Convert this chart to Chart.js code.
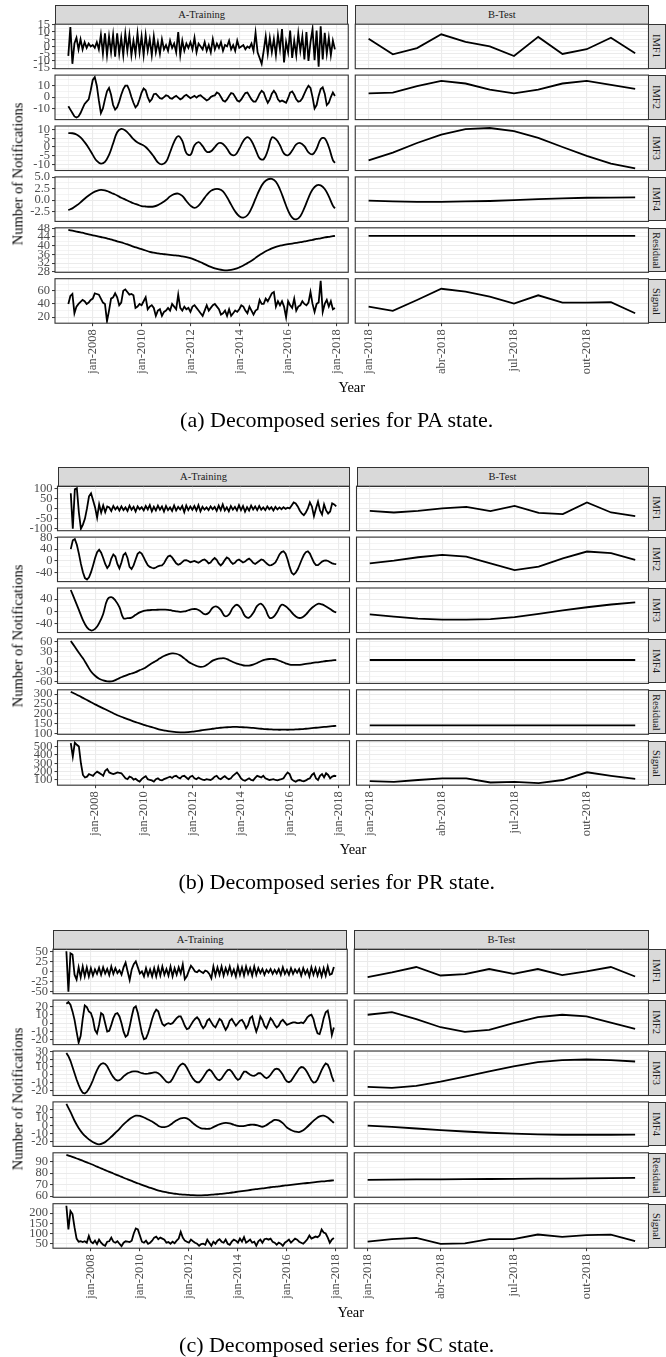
<!DOCTYPE html>
<html>
<head>
<meta charset="utf-8">
<script src="https://cdn.jsdelivr.net/npm/chart.js@4.4.6/dist/chart.umd.min.js"></script>
<style>
  html, body { margin: 0; padding: 0; background: #fff; }
  #page { position: relative; width: 666px; height: 1357px; overflow: hidden;
          font-family: 'Liberation Serif', 'Times New Roman', serif; }
  #page canvas { position: absolute; }
  .strip { position: absolute; box-sizing: border-box; border: 1px solid #333; background: #d9d9d9;
           color: #1a1a1a; font-size: 10.5px; display: flex; align-items: center; justify-content: center;
           white-space: nowrap; overflow: hidden; }
  .strip.v { writing-mode: vertical-rl; }
  .txt { position: absolute; white-space: nowrap; color: #000; transform: translate(-50%, -50%); }
</style>
</head>
<body>
<div id="page"></div>
<script>
// Values. Training series run Jan-2007..Dec-2017:
// 132 entries = one per month, 67 entries = every other month plus Dec-2017.
// Test series are Jan-2018..Dec-2018, one per month.

// ---- (a) PA
const PA_IMF1_TRAIN = [
  -6.5, 13.5, -12, 2, 6, -2, 5, -2, 3, -1, 2, 0,
  1, -1, 3, -2, 8, -5, 9, -6, 7, -4, 8, -7,
  9, -5, 6, -6, 9, -3, 8, -6, 4, -5, 9, -4,
  7, -6, 8, -3, 5, -6, 7, -4, 3, -5, 5, -2,
  1, -3, 4, -1, 2, -4, 10, -6, 4, -3, 2, -1,
  3, -2, 6, -4, 2, 0, -2, 3, -3, 1, -4, 5,
  -2, 2, -1, 3, -3, 1, 0, 4, -2, 1, -3, 4,
  -1, 0, 1, -2, 0, -1, 2, -3, 9.5, -4, -8, -12,
  -3, 7, -5, 6, -4, 5, -6, 8, -2, 12, -11, 3,
  -4, 11, -8, 4, -6, 9, -3, 7, -9, 10, -10, 3,
  12, -9.5, 11, -14, 14, -9, 9.5, -5, 6, -6, 4, -2];
const PA_IMF1_TEST = [5.3, -5.4, -1.1, 8.4, 3.1, 0, -6.6, 6.6, -5.2, -1.9, 6, -4.7];
const PA_IMF2_TRAIN = [
  -8, -11, -14, -17, -18, -17, -14, -10, -6, -4, -2, 6,
  15, 17.5, 10, -3, -14, -10, -2, 5, 8, 2, -7, -11,
  -9, -4, 2, 7, 10, 10, 6, 0, -5, -9, -7, -2,
  4, 7.5, 6, 0, -4, -2, 2.5, 3, 1, -1, -1.5, 0,
  1.5, 1, -1, -1.5, 0, 1, -0.5, -2, -1, 1, 2, 0.5,
  -1, 0, 1, -0.5, 1, 1.5, 0, -1.5, -3, -2, 0, 1,
  1.5, 4, 3, 0, -3, -4, -2, 1, 3.5, 3, 0, -3,
  -4, -2, 1, 3.5, 4, 1, -2, -4, -4, -1, 3, 5.5,
  4, -1, -5, -2, 3, 5.5, 3, -2, -4, -3, -4, -5,
  -1, 4, 5, 2, -2, -4, -3.5, -1, 3, 7, 10, 8,
  0, -10, -7, 1, 7, 8.5, 3, -7, -5, 0, 4, 1];
const PA_IMF2_TEST = [3.3, 3.9, 9.5, 14.2, 11.9, 6.5, 3.3, 6.5, 11.9, 14.2, 10.6, 7.1];
const PA_IMF3_TRAIN = [
  8.0, 7.9, 7.2, 5.5, 2.8, -0.5, -4.5, -8.0, -9.5, -8.5,
  -4.5, 2.0, 8.5, 10.4, 9.5, 7.2, 4.5, 2.6, 1.5, 0.0,
  -2.5, -5.5, -8.8, -10.0, -8.5, -3.0, 3.0, 6.3, 3.5, -3.5,
  -4.5, 1.0, 2.8, 0.5, -2.7, -2.5, 0.0, 2.3, 1.8, -1.0,
  -4.3, -4.5, -1.0, 3.5, 5.7, 3.5, -1.5, -6.5, -7.0, -2.0,
  5.5, 4.5, 1.0, -3.8, -4.7, -2.0, 1.5, 2.3, 0.5, -3.0,
  -4.2, -1.0, 4.5, 5.0, 0.0, -7.5, -9.1];
const PA_IMF3_TEST = [-7.6, -3.2, 2.3, 7.1, 10.3, 10.9, 9.1, 5.3, 0, -5.1, -9.5, -12.3];
const PA_IMF4_TRAIN = [
  -2.2, -1.8, -1.2, -0.5, 0.3, 1.0, 1.6, 2.0, 2.2, 2.1,
  1.8, 1.4, 1.0, 0.5, 0.1, -0.3, -0.7, -1.0, -1.3, -1.4,
  -1.45, -1.4, -1.1, -0.6, 0.0, 0.8, 1.3, 1.4, 0.9, -0.2,
  -1.2, -1.7, -1.2, -0.1, 1.1, 2.0, 2.4, 2.4, 1.9, 0.6,
  -1.0, -2.5, -3.5, -3.8, -3.3, -1.8, 0.3, 2.3, 3.8, 4.5,
  4.6, 4.0, 2.3, 0.0, -2.3, -3.8, -4.2, -3.5, -1.7, 0.5,
  2.3, 3.2, 3.2, 2.4, 0.8, -1.2, -1.8];
const PA_IMF4_TEST = [-0.1, -0.3, -0.4, -0.4, -0.3, -0.2, 0, 0.2, 0.35, 0.5, 0.55, 0.6];
const PA_RES_TRAIN = [
  47.3, 46.9, 46.5, 46.1, 45.7, 45.2, 44.8, 44.4, 44.0, 43.6,
  43.1, 42.6, 42.0, 41.5, 40.9, 40.3, 39.6, 39.0, 38.4, 37.8,
  37.2, 36.8, 36.5, 36.2, 36.0, 35.8, 35.6, 35.4, 35.1, 34.8,
  34.3, 33.6, 32.8, 32.0, 31.1, 30.3, 29.6, 29.1, 28.8, 28.7,
  28.9, 29.3, 30.0, 30.9, 32.0, 33.1, 34.4, 35.7, 36.9, 37.9,
  38.8, 39.5, 40.0, 40.4, 40.7, 41.0, 41.3, 41.6, 42.0, 42.3,
  42.7, 43.1, 43.4, 43.8, 44.1, 44.4, 44.5];
const PA_RES_TEST = [44.5, 44.5, 44.5, 44.5, 44.5, 44.5, 44.5, 44.5, 44.5, 44.5, 44.5, 44.5];
const PA_SIGNAL_TRAIN = [
  40, 52, 55, 26, 36, 40, 43, 46, 44, 40, 42, 46,
  48, 56, 55, 54, 48, 42, 40, 14, 30, 48, 50, 56,
  50, 38, 42, 60, 62, 58, 54, 55, 53, 34, 36, 40,
  38, 44, 50, 32, 36, 38, 34, 22, 30, 32, 22, 28,
  30, 34, 30, 40, 36, 32, 54, 34, 30, 36, 32, 34,
  28, 36, 38, 34, 30, 26, 22, 30, 38, 30, 34, 38,
  40, 36, 32, 24, 26, 30, 22, 32, 22, 26, 30, 28,
  32, 38, 36, 30, 26, 36, 30, 24, 30, 32, 46, 40,
  40, 48, 44, 50, 56, 58, 36, 44, 38, 44, 36, 20,
  44, 38, 34, 48, 30, 36, 38, 44, 40, 38, 42, 58,
  40, 28, 40, 42, 75, 28, 40, 46, 36, 44, 32, 34];
const PA_SIGNAL_TEST = [36, 29.5, 46, 62.9, 58.5, 51, 40.5, 53, 42, 42, 42.5, 26];

// ---- (b) PR
const PR_IMF1_TRAIN = [
  75, -100, 95, 100, -20, -100, -80, -50, 0, 60, 75, 40,
  5, -45, 20, -20, 15, -18, 10, 5, -12, 12, -5, 8,
  -10, 10, -8, 5, -12, 14, -6, 8, -15, 10, -4, 6,
  -10, 12, -5, 16, -14, 8, -10, 14, -6, 10, -15, 12,
  -8, 5, -12, 15, -10, 8, -5, 12, -18, 14, -8, 10,
  -6, 12, -10, 16, -14, 8, -6, 5, -8, 10, -4, 8,
  -12, 14, -8, 20, -10, 6, -14, 12, -6, 8, -10, 16,
  -8, 12, -16, 6, -10, 14, -5, 10, -8, 12, -6, 5,
  -8, 10, -4, 6, -10, 8, -5, 5, -4, 6, -2, 4,
  0, 15, 30, 25, 10, -10, -25, -33, -20, 0, 30, 10,
  -38, 0, 33, -10, -30, 20, -10, -25, -15, 25, 20, 10];
const PR_IMF1_TEST = [-12, -20, -12, 0, 8, -13.5, 13, -22, -28, 30, -20, -38];
const PR_IMF2_TRAIN = [
  40, 70, 74, 55, 25, -10, -38, -58, -63, -55, -38, -15,
  10, 30, 38, 28, 10, -10, -24, -15, 8, 22, 15, -10,
  -25, -5, 20, 27, 10, -20, -27, -15, 5, 24, 30, 25,
  12, -2, -14, -20, -23, -25, -22, -18, -16, -15, -8, 5,
  15, 18, 12, 2, -8, -13, -10, -4, 2, 3, 0, -4,
  -2, 0, -3, -6, -2, 3, 5, 0, -8, -5, 4, 10,
  4, -8, -15, -8, 3, 12, 8, -3, -10, -6, 2, 5,
  0, -5, -2, 4, 8, 2, -6, -10, -5, 0, 5, 3,
  -4, -10, -15, -14, -10, -5, 8, 22, 30, 33, 25, 5,
  -20, -40, -46, -40, -28, -12, 5, 20, 30, 33, 25, 10,
  -5, -14, -14, -8, -2, 1, 2, 0, -4, -8, -10, -11];
const PR_IMF2_TEST = [-8, 1, 12.6, 20.6, 14.9, -8, -30.9, -19.4, 9.1, 32, 26.3, 3.4];
const PR_IMF3_TRAIN = [
  70, 38, 5, -28, -52, -62, -57, -38, -8, 38,
  47, 36, 14, -22, -22, -20, -11, -3, 2, 4,
  5, 5.5, 6, 6, 5.5, 3, 0.5, -1, 0, 4,
  7.5, 7.5, 1, -9, -5, 12, 16, 5, -15, -10,
  12, 22, 10, -15, -20, -5, 18, 25, 8, -20,
  -18, 0, 22, 17, 5, -10, -20, -20, -10, 5,
  17, 25, 23, 16, 8, -1, -3];
const PR_IMF3_TEST = [-9.3, -17, -23, -26.6, -26.6, -25, -18.6, -8, 3.4, 13.8, 22.8, 29.7];
const PR_IMF4_TRAIN = [
  63, 45, 27, 10, -10, -30, -43, -52, -57, -60,
  -60, -56, -50, -45, -40, -36, -32, -26, -21, -13,
  -5, 2, 10, 17, 22, 25, 24, 19, 10, 0,
  -7, -13, -16, -14, -6, 3, 8, 10, 10, 5,
  -1, -6, -9, -12, -12, -9, -4, 2, 6, 8,
  8, 5, 0, -5, -9, -10, -10, -9, -7, -5,
  -3, -2, 0, 2, 3, 4.5, 5];
const PR_IMF4_TEST = [5, 5, 5, 5, 5, 5, 5, 5, 5, 5, 5, 5];
const PR_RES_TRAIN = [
  312, 302, 292, 281, 270, 259, 248, 238, 228, 218,
  208, 198, 189, 181, 173, 165, 158, 151, 144, 138,
  132, 126, 120, 116, 112, 109, 107, 106, 106, 107,
  109, 112, 115, 118, 121, 124, 127, 129, 131, 132,
  133, 133, 132, 131, 130, 128, 126, 124, 122, 121,
  120, 119, 119, 119, 119, 120, 121, 122, 124, 126,
  128, 130, 132, 134, 136, 138, 139];
const PR_RES_TEST = [141, 141, 141, 141, 141, 141, 141, 141, 141, 141, 141, 141];
const PR_SIGNAL_TRAIN = [
  540, 380, 545, 520, 500, 300, 160, 130, 140, 170, 160, 150,
  180, 200, 185, 170, 150, 210, 230, 190, 180, 170, 180, 190,
  185, 180, 150, 120, 110, 140, 130, 105, 115, 95, 80, 110,
  130, 145, 110, 100, 95, 80, 110, 120, 100, 95, 110, 120,
  130, 140, 125, 145, 150, 130, 120, 145, 150, 130, 110, 140,
  150, 120, 110, 130, 115, 105, 100, 110, 105, 100, 115, 140,
  150, 120, 110, 130, 145, 125, 110, 120, 150, 170, 190, 160,
  120, 100, 90, 105, 120, 100, 95, 125, 150, 140, 130, 150,
  120, 110, 100, 105, 110, 100, 95, 105, 110, 120, 160, 190,
  170, 110, 90, 80, 95, 100, 90, 85, 95, 110, 120, 160,
  180, 120, 100, 150, 170, 130, 180, 160, 120, 140, 150, 145];
const PR_SIGNAL_TEST = [87, 78, 100, 120, 120, 70, 78, 62, 100, 192, 150, 113];

// ---- (c) SC
const SC_IMF1_TRAIN = [
  50, -50, 45, 42, -8, -20, 10, -14, 12, -12, 10, -12,
  8, -10, 5, -6, 9, -8, 10, -5, 6, -9, 12, -6,
  8, -4, 3, -8, 10, 22, 0, -21, 5, 18, 25, 10,
  -5, 0, -12, 8, -10, 5, -12, 8, -12, 10, -10, 12,
  -8, 6, -10, 12, -12, 8, -8, 10, -5, 17, -19, -12,
  2, 14, 8, 0, -2, 3, -1, -4, 2, 0, -6, -17,
  12, -10, 10, -8, 12, -10, 8, -6, 12, -8, 5, -12,
  12, -8, 10, -10, 12, -6, 8, -10, 12, -8, 8, -4,
  6, -8, 4, -3, 6, -6, 4, -5, 6, -8, 10, -6,
  4, -8, 8, -6, 5, -3, 6, -10, 8, -6, 4, -12,
  10, -8, 8, -10, 6, -12, 8, -10, 12, -8, -6, 11];
const SC_IMF1_TEST = [-14, -2.5, 11, -10, -6.5, 6, -5.8, 6, -9, 0, 11, -12.5];
const SC_IMF2_TRAIN = [
  23, 25, 22, 14, 4, -10, -23, -15, 5, 21, 19, 14,
  12, 5, -8, -12, -2, 12, 10, 0, -10, -9, -2, 6,
  11, 12, 8, 0, -10, -16, -14, -4, 8, 18, 20, 12,
  0, -12, -19, -18, -12, -4, 5, 12, 16, 14, 6, -1,
  -3, -1, 0, -1, 0, 3, 6, 8, 8, 3, -3, -7,
  -6, -2, 2, 5, 7, 4, -2, -6, -3, 3, 5, 1,
  -3, -5, 0, 5, 3, -3, -8, -4, 3, 5, 1, -3,
  0, 3, 4, 0, -6, -2, 6, 8, -2, -10, -3, 8,
  4, -3, -6, 0, 6, 3, -2, -5, -3, 2, 4, 1,
  -2, -1, 0, 1, 1, 0, 0, 1, 0, 3, 7, 9,
  10, 5, -5, -12, -13, -5, 6, 13, 15, 3, -14, -5];
const SC_IMF2_TEST = [10, 13.2, 4.8, -4.8, -10.4, -8, 0, 7.2, 10, 8, 0.7, -6.8];
const SC_IMF3_TRAIN = [
  28, 24, 18, 10, 2, -6, -13, -19, -23, -24, -22, -18,
  -13, -7, 0, 6, 11, 14, 15, 14, 11, 6, 1, -3,
  -6, -7.5, -7, -5, -2, 0, 2, 3, 4, 4.4, 4.4, 4,
  3, 2, 1.5, 1.3, 1.5, 2, 2.5, 3, 3, 2, 0, -3,
  -6, -9, -10, -9, -5, 0, 5, 10, 13, 14.5, 13, 9,
  4, -1, -5, -8, -9.6, -9.6, -7, -3, 1, 5, 6.6, 5,
  1, -3, -6, -7, -5, -1, 3, 6, 6.6, 4, 0, -4,
  -6.6, -5, 0, 4, 4, 2, 0, -1, -1.3, 0, 2, 2.2,
  0, -3, -4.4, -3, 0, 4, 7, 7.9, 7, 4, 0, -5,
  -8.5, -9.6, -8, -4, 0, 4, 8, 10, 9.5, 7, 3, -2,
  -7, -10, -9.5, -6, 0, 6, 11, 14.5, 13, 7, -2, -9];
const SC_IMF3_TEST = [-15.4, -16.7, -14.1, -8.8, -2.2, 4.3, 10.9, 16.2, 18.8, 19.7, 18.8, 17.1];
const SC_IMF4_TRAIN = [
  27, 17, 6, -3, -10, -15, -19, -22, -23.5, -22,
  -18.5, -14, -9, -4, 1.5, 6, 10, 12.3, 12, 10,
  7.5, 5, 1.5, -1.5, -2, -0.5, 3, 6.5, 9, 9.5,
  7.5, 3, -1, -3.5, -4, -4, -2, 0.5, 2.5, 3.3,
  2.8, 1, -0.5, -0.8, 0, 1, 1, 0, -1.5, 0.5,
  4, 7, 6.5, 3, -2.5, -5.5, -7.5, -8.2, -6, -1.5,
  3.5, 8, 11.5, 12.3, 10, 5.5, 3.3];
const SC_IMF4_TEST = [0, -1.6, -3.7, -5.8, -7.4, -9, -10.2, -11.1, -11.5, -11.5, -11.5, -11.3];
const SC_RES_TRAIN = [
  96, 94.8, 93.5, 92.2, 90.8, 89.4, 88, 86.5, 84.9, 83.4,
  81.9, 80.4, 79, 77.5, 76, 74.6, 73.2, 71.8, 70.5, 69.2,
  67.9, 66.7, 65.5, 64.5, 63.6, 62.9, 62.3, 61.9, 61.5, 61.2,
  61, 60.8, 60.7, 60.7, 60.8, 61, 61.3, 61.6, 62, 62.4,
  62.8, 63.3, 63.8, 64.3, 64.8, 65.3, 65.8, 66.3, 66.7, 67.2,
  67.7, 68.1, 68.5, 69, 69.4, 69.8, 70.2, 70.6, 71, 71.4,
  71.8, 72.2, 72.6, 72.9, 73.3, 73.6, 73.7];
const SC_RES_TEST = [74.2, 74.3, 74.5, 74.6, 74.8, 74.9, 75.0, 75.2, 75.3, 75.5, 75.6, 75.8];
const SC_SIGNAL_TRAIN = [
  236, 120, 210, 195, 130, 75, 60, 62, 58, 62, 55, 88,
  60, 52, 65, 48, 70, 55, 45, 40, 60, 62, 80, 60,
  55, 62, 50, 38, 55, 62, 60, 58, 65, 100, 125, 120,
  90, 60, 55, 65, 50, 55, 65, 80, 85, 72, 80, 75,
  70, 55, 58, 50, 60, 52, 65, 75, 108, 80, 65, 60,
  55, 70, 62, 55, 50, 40, 48, 50, 45, 70, 55, 40,
  60, 50, 65, 72, 60, 55, 70, 50, 45, 60, 70, 65,
  55, 75, 60, 82, 55, 62, 70, 55, 60, 40, 62, 70,
  55, 72, 75, 70, 75, 60, 55, 45, 55, 50, 40, 55,
  62, 70, 55, 65, 75, 70, 60, 55, 50, 60, 72, 90,
  75, 80, 85, 82, 90, 120, 105, 100, 80, 55, 70, 78];
const SC_SIGNAL_TEST = [60, 73, 79, 49, 52, 73, 73, 95, 84, 92, 95, 63];

// ---- y tick labels per row, as printed
const PA_TICKS = [[-15, -10, -5, 0, 5, 10, 15], [-10, 0, 10], [-10, -5, 0, 5, 10],
                  [-2.5, 0, 2.5, 5], [28, 32, 36, 40, 44, 48], [20, 40, 60]];
const PR_TICKS = [[-100, -50, 0, 50, 100], [-40, 0, 40, 80], [-40, 0, 40],
                  [-60, -30, 0, 30, 60], [100, 150, 200, 250, 300], [100, 200, 300, 400, 500]];
const SC_TICKS = [[-50, -25, 0, 25, 50], [-20, -10, 0, 10, 20], [-20, -10, 0, 10, 20, 30],
                  [-20, -10, 0, 10, 20], [60, 70, 80, 90], [50, 100, 150, 200]];

const ROW_NAMES = ['IMF1', 'IMF2', 'IMF3', 'IMF4', 'Residual', 'Signal'];
const COL_NAMES = ['A-Training', 'B-Test'];
const CAPTIONS = ['(a) Decomposed series for PA state.', '(b) Decomposed series for PR state.',
                  '(c) Decomposed series for SC state.'];
const TRAIN_TICK_YEARS = [2008, 2010, 2012, 2014, 2016, 2018];
const TRAIN_TICK_LABELS = ['jan-2008', 'jan-2010', 'jan-2012', 'jan-2014', 'jan-2016', 'jan-2018'];
const TEST_TICK_MONTHS = [0, 3, 6, 9];
const TEST_TICK_LABELS = ['jan-2018', 'abr-2018', 'jul-2018', 'out-2018'];

const FIGURES = [
  { caption: CAPTIONS[0], ticks: PA_TICKS, decimals: [0, 0, 0, 1, 0, 0],
    train: [PA_IMF1_TRAIN, PA_IMF2_TRAIN, PA_IMF3_TRAIN, PA_IMF4_TRAIN, PA_RES_TRAIN, PA_SIGNAL_TRAIN],
    test: [PA_IMF1_TEST, PA_IMF2_TEST, PA_IMF3_TEST, PA_IMF4_TEST, PA_RES_TEST, PA_SIGNAL_TEST] },
  { caption: CAPTIONS[1], ticks: PR_TICKS, decimals: [0, 0, 0, 0, 0, 0],
    train: [PR_IMF1_TRAIN, PR_IMF2_TRAIN, PR_IMF3_TRAIN, PR_IMF4_TRAIN, PR_RES_TRAIN, PR_SIGNAL_TRAIN],
    test: [PR_IMF1_TEST, PR_IMF2_TEST, PR_IMF3_TEST, PR_IMF4_TEST, PR_RES_TEST, PR_SIGNAL_TEST] },
  { caption: CAPTIONS[2], ticks: SC_TICKS, decimals: [0, 0, 0, 0, 0, 0],
    train: [SC_IMF1_TRAIN, SC_IMF2_TRAIN, SC_IMF3_TRAIN, SC_IMF4_TRAIN, SC_RES_TRAIN, SC_SIGNAL_TRAIN],
    test: [SC_IMF1_TEST, SC_IMF2_TEST, SC_IMF3_TEST, SC_IMF4_TEST, SC_RES_TEST, SC_SIGNAL_TEST] },
];

// ---- layout (px)
const FIG_TOP = [5, 467, 930];
const TRAIN_LEFT = [55, 57.5, 53];
const PANELS_RIGHT = 648.5, COL_GAP = 7, STRIP_H = 19.2, ROW_PITCH = 50.9, PANEL_H = 44.5, RSTRIP_W = 17;
const AXW = 40, PADV = 9, PADR = 2, PADL = 1, XAH = 56;

const MONTHLY = Array.from({ length: 132 }, (_, i) => i);
const COARSE = Array.from({ length: 66 }, (_, i) => i * 2).concat([131]);

Chart.defaults.font.family = "'Liberation Serif', 'Times New Roman', serif";
Chart.defaults.font.size = 12.5;
Chart.defaults.color = '#4d4d4d';

const page = document.getElementById('page');

// ggplot-like limits: data range expanded by 5% each side
function limits(vals) {
  const lo = Math.min(...vals), hi = Math.max(...vals);
  const pad = (hi - lo) * 0.05;
  return [lo - pad, hi + pad];
}

// majors within limits plus minor breaks halfway between them
function ggTicks(majors, min, max) {
  const step = majors[1] - majors[0];
  const inside = majors.filter(v => v >= min - 1e-9 && v <= max + 1e-9);
  const ext = [inside[0] - step, ...inside, inside[inside.length - 1] + step];
  const out = [];
  ext.forEach((v, i) => {
    if (i > 0) {
      const mid = (ext[i - 1] + v) / 2;
      if (mid >= min && mid <= max) out.push({ value: mid, minor: true });
    }
    if (v >= min && v <= max) out.push({ value: v, minor: false });
  });
  return out;
}

const isMinor = c => c.tick && c.tick.minor;
const gridOpts = showTicks => ({
  color: '#ebebeb',
  lineWidth: c => isMinor(c) ? 0.55 : 1.1,
  drawTicks: showTicks,
  tickLength: 3,
  tickWidth: 1,
  tickColor: c => isMinor(c) ? 'rgba(0,0,0,0)' : '#333333',
});

const panelBorder = {
  id: 'panelBorder',
  afterDraw(chart) {
    const { ctx, chartArea: a } = chart;
    ctx.save();
    ctx.strokeStyle = '#333333';
    ctx.lineWidth = 1.1;
    ctx.strokeRect(a.left, a.top, a.right - a.left, a.bottom - a.top);
    ctx.restore();
  },
};

function makePanel(p) {
  const axw = p.train ? AXW : 0;
  const fx = p.x - Math.floor(p.x), fy = p.y - Math.floor(p.y);
  const padL = (p.train ? 0 : PADL) + fx;
  const cx = Math.floor(p.x) - axw - (p.train ? 0 : PADL);
  const cy = Math.floor(p.y) - PADV;
  const padT = PADV + fy;
  const W = Math.ceil(padL + axw + p.w + PADR);
  const H = Math.ceil(padT + p.h + (p.bottom ? XAH : PADV));
  const canvas = document.createElement('canvas');
  canvas.width = W; canvas.height = H;
  canvas.style.left = cx + 'px'; canvas.style.top = cy + 'px';
  canvas.style.width = W + 'px'; canvas.style.height = H + 'px';
  page.appendChild(canvas);

  new Chart(canvas, {
    type: 'line',
    data: { datasets: [{
      data: p.points, borderColor: '#000', borderWidth: 1.8, pointRadius: 0,
      tension: p.smooth ? 0.4 : 0, fill: false,
    }] },
    plugins: [panelBorder],
    options: {
      responsive: false, animation: false, devicePixelRatio: 1, events: [],
      layout: { padding: { left: padL, top: padT, right: W - padL - axw - p.w,
                           bottom: H - padT - p.h - (p.bottom ? XAH : 0) } },
      plugins: { legend: { display: false }, tooltip: { enabled: false } },
      scales: {
        x: {
          type: 'linear', min: p.xMin, max: p.xMax, bounds: 'data',
          afterBuildTicks: s => { s.ticks = ggTicks(p.xMajors, p.xMin, p.xMax); },
          afterFit: s => { s.height = p.bottom ? XAH : 0; s.paddingLeft = 0; s.paddingRight = 0; },
          ticks: {
            display: p.bottom, autoSkip: false, minRotation: 90, maxRotation: 90, padding: 3,
            callback: (v, i, t) => t[i].minor ? '' : p.xLabel(v),
          },
          grid: gridOpts(p.bottom),
          border: { display: false },
        },
        y: {
          type: 'linear', min: p.yMin, max: p.yMax, bounds: 'data',
          afterBuildTicks: s => { s.ticks = ggTicks(p.yMajors, p.yMin, p.yMax); },
          afterFit: s => { s.width = axw; s.paddingTop = 0; s.paddingBottom = 0; },
          ticks: {
            display: p.train, autoSkip: false, padding: 2,
            callback: (v, i, t) => t[i].minor ? '' : v.toFixed(p.decimals),
          },
          grid: gridOpts(p.train),
          border: { display: false },
        },
      },
    },
  });
}

function addDiv(cls, text, x, y, w, h) {
  const d = document.createElement('div');
  d.className = cls; d.textContent = text;
  Object.assign(d.style, { left: x + 'px', top: y + 'px', width: w + 'px', height: h + 'px' });
  page.appendChild(d);
  return d;
}

function addText(text, cx, cy, size, rotate) {
  const d = document.createElement('div');
  d.className = 'txt'; d.textContent = text;
  d.style.left = cx + 'px'; d.style.top = cy + 'px'; d.style.fontSize = size + 'px';
  if (rotate) d.style.transform = 'translate(-50%, -50%) rotate(-90deg)';
  page.appendChild(d);
}

const trainSpan = 131 / 12;
const TRAIN_X = [2007 - 0.05 * trainSpan, 2007 + trainSpan * 1.05];
const TEST_X = [-0.05 * 11, 11 * 1.05];

FIGURES.forEach((fig, f) => {
  const top = FIG_TOP[f];
  const L = TRAIN_LEFT[f];
  const pw = (PANELS_RIGHT - L - COL_GAP) / 2;
  const colX = [L, L + pw + COL_GAP];

  COL_NAMES.forEach((name, c) => addDiv('strip', name, colX[c], top, pw, STRIP_H + 0.5));

  ROW_NAMES.forEach((rowName, r) => {
    const y = top + STRIP_H + r * ROW_PITCH;
    const tr = fig.train[r], te = fig.test[r];
    const [yMin, yMax] = limits(tr.concat(te));
    const months = tr.length === 132 ? MONTHLY : COARSE;
    const common = { y, w: pw, h: PANEL_H, bottom: r === 5, yMin, yMax,
                     yMajors: fig.ticks[r], decimals: fig.decimals[r] };
    makePanel(Object.assign({}, common, {
      x: colX[0], train: true, smooth: tr.length !== 132,
      points: tr.map((v, i) => ({ x: 2007 + months[i] / 12, y: v })),
      xMin: TRAIN_X[0], xMax: TRAIN_X[1], xMajors: TRAIN_TICK_YEARS,
      xLabel: v => TRAIN_TICK_LABELS[TRAIN_TICK_YEARS.indexOf(v)] || '',
    }));
    makePanel(Object.assign({}, common, {
      x: colX[1], train: false, smooth: false,
      points: te.map((v, i) => ({ x: i, y: v })),
      xMin: TEST_X[0], xMax: TEST_X[1], xMajors: TEST_TICK_MONTHS,
      xLabel: v => TEST_TICK_LABELS[TEST_TICK_MONTHS.indexOf(v)] || '',
    }));
    addDiv('strip v', rowName, PANELS_RIGHT - 0.5, y, RSTRIP_W + 0.5, PANEL_H);
  });

  const panelsMid = top + STRIP_H + (5 * ROW_PITCH + PANEL_H) / 2;
  addText('Number of Notifications', 17.8, panelsMid, 14.5, true);
  addText('Year', (L + PANELS_RIGHT) / 2, top + 381.7, 14.5, false);
  addText(fig.caption, 336.7, top + 414.5, 22, false);
});
</script>
</body>
</html>
